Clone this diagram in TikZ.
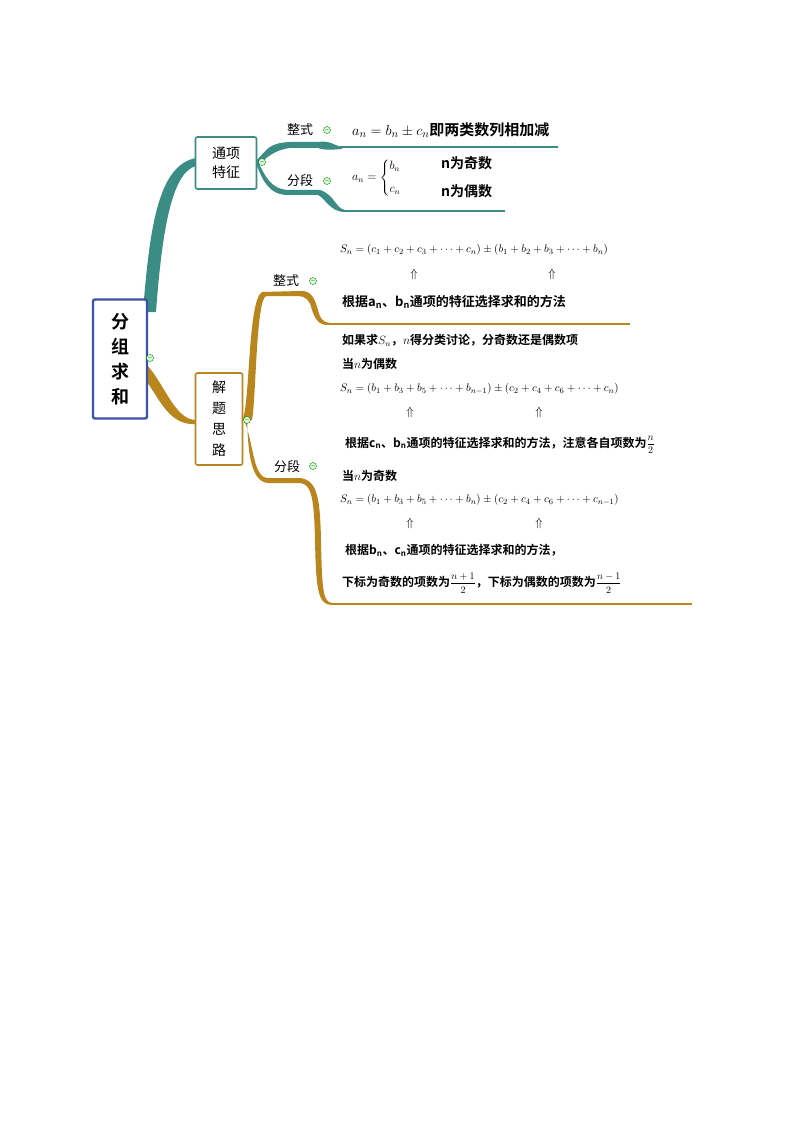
\documentclass[tikz,border=0pt]{standalone}
\usepackage{fontspec}
\usepackage{amsmath}
\newfontfamily\cjk{Noto Sans CJK SC}[BoldFont={Noto Sans CJK SC Bold}]
\definecolor{teal1}{HTML}{3A8C84}
\definecolor{gold1}{HTML}{B8861C}
\definecolor{blue1}{HTML}{3E51A8}
\newcommand{\myfr}[2]{{\fontsize{10}{12}\selectfont$\dfrac{#1}{#2}$}}
\begin{document}
\begin{tikzpicture}[x=1pt,y=-1pt,
  box/.style={draw,line width=1.6pt,rounded corners=2pt,fill=white,align=center,font=\cjk\fontsize{14}{19}\selectfont},
  lab/.style={font=\cjk\fontsize{13}{15}\selectfont},
  tx/.style={font=\cjk\bfseries\fontsize{13}{15}\selectfont,anchor=west,inner sep=0pt},
  txs/.style={font=\cjk\bfseries\fontsize{12}{14}\selectfont,anchor=west,inner sep=0pt},
  eq/.style={font=\fontsize{11}{13}\selectfont,anchor=west,inner sep=0pt},
  up/.style={font=\fontsize{13}{15}\selectfont},
  mini/.style={circle,draw=green!50!black,fill=green!15,inner sep=0pt,minimum size=7pt,font=\tiny}]
\useasboundingbox (0,0) rectangle (794,1123);
% branches teal
\fill[teal1] (143,312) .. controls (150,220) and (160,165) .. (196,158) -- (196,166) .. controls (172,172) and (162,230) .. (156,312) -- cycle;
\fill[teal1] (257,160) .. controls (268,148) and (270,143) .. (290,142) -- (318,142) .. controls (330,140) and (335,146) .. (342,147) -- (342,149) .. controls (330,150) and (322,150) .. (318,148) -- (290,148) .. controls (274,150) and (266,158) .. (257,166) -- cycle;
\draw[teal1,line width=1.5pt] (340,147) -- (558,147);
\fill[teal1] (257,160) .. controls (265,175) and (270,190) .. (290,190) -- (320,190) .. controls (335,195) and (335,208) .. (345,210) -- (345,212) .. controls (330,212) and (325,198) .. (318,195) -- (290,195) .. controls (268,196) and (262,178) .. (257,166) -- cycle;
\draw[teal1,line width=1.5pt] (343,211) -- (505,211);
% gold
\fill[gold1] (147,365) .. controls (165,385) and (175,420) .. (196,420) -- (196,424) .. controls (170,426) and (160,400) .. (147,382) -- cycle;
\fill[gold1] (243,418) .. controls (250,400) and (248,300) .. (262,292) -- (300,291) .. controls (312,290) and (315,300) .. (318,310) .. controls (320,318) and (322,322) .. (330,323) -- (330,325) .. controls (318,326) and (315,318) .. (312,310) .. controls (310,300) and (305,296) .. (298,296) -- (266,296) .. controls (256,300) and (256,400) .. (252,420) -- cycle;
\draw[gold1,line width=1.5pt] (328,324) -- (630,324);
\fill[gold1] (243,418) .. controls (254,440) and (252,478) .. (268,478) -- (300,478) .. controls (318,480) and (320,500) .. (321,540) .. controls (322,590) and (323,602) .. (332,603) -- (332,605) .. controls (318,605) and (316,590) .. (315,540) .. controls (314,500) and (312,484) .. (300,483) -- (268,483) .. controls (248,482) and (248,440) .. (247,418) -- cycle;
\draw[gold1,line width=1.5pt] (330,604) -- (692,604);
% boxes
\node[box,draw=blue1,line width=2.4pt,minimum width=54pt,minimum height=119pt,font=\cjk\bfseries\fontsize{18}{25}\selectfont,inner sep=2pt] (root) at (120,359) {分\\组\\求\\和};
\node[box,draw=teal1,minimum width=61pt,minimum height=52pt] (tx) at (226,163) {通项\\特征};
\node[box,draw=gold1,minimum width=47pt,minimum height=92pt,font=\cjk\fontsize{14}{21}\selectfont] (jt) at (219,419) {解\\题\\思\\路};
% minus markers
\foreach \p in {(150,358),(262,162),(247,420),(327,130),(327,181),(313,281),(313,466)}
  \node[mini] at \p {$-$};
% labels
\node[lab] (z1) at (300,130) {整式};
\node[lab] (f1) at (300,181) {分段};
\node[lab] (z2) at (286,281) {整式};
\node[lab] (f2) at (287,467) {分段};
% teal texts
\node[tx,font=\cjk\bfseries\fontsize{15}{17}\selectfont] (t1) at (352,130) {$a_n=b_n\pm c_n$即两类数列相加减};
\node[eq,font=\fontsize{12}{14}\selectfont] (t2) at (352,178) {$a_n=\begin{cases} b_n\\[6pt] c_n\end{cases}$};
\node[tx,font=\cjk\bfseries\fontsize{14}{16}\selectfont] (t3) at (441,163) {n为奇数};
\node[tx,font=\cjk\bfseries\fontsize{14}{16}\selectfont] (t4) at (441,191) {n为偶数};
% gold texts
\node[eq] (g1) at (340,250) {$S_n=(c_1+c_2+c_3+\dots+c_n)\pm(b_1+b_2+b_3+\dots+b_n)$};
\node[up] at (414,274) {$\Uparrow$};
\node[up] at (552,274) {$\Uparrow$};
\node[tx] (g2) at (342,302) {根据a\textsubscript{n}、b\textsubscript{n}通项的特征选择求和的方法};
\node[txs] (h1) at (342,340) {如果求$S_n$，$n$得分类讨论，分奇数还是偶数项};
\node[txs] (h2) at (342,364) {当$n$为偶数};
\node[eq] (h3) at (340,389) {$S_n=(b_1+b_3+b_5+\dots+b_{n-1})\pm(c_2+c_4+c_6+\dots+c_n)$};
\node[up] at (410,412) {$\Uparrow$};
\node[up] at (539,412) {$\Uparrow$};
\node[txs] (h4) at (345,445) {根据c\textsubscript{n}、b\textsubscript{n}通项的特征选择求和的方法，注意各自项数为\myfr{n}{2}};
\node[txs] (h5) at (342,476) {当$n$为奇数};
\node[eq] (h6) at (340,500) {$S_n=(b_1+b_3+b_5+\dots+b_n)\pm(c_2+c_4+c_6+\dots+c_{n-1})$};
\node[up] at (410,523) {$\Uparrow$};
\node[up] at (539,523) {$\Uparrow$};
\node[txs] (h7) at (345,550) {根据b\textsubscript{n}、c\textsubscript{n}通项的特征选择求和的方法，};
\node[txs] (h8) at (342,583) {下标为奇数的项数为\myfr{n+1}{2}，下标为偶数的项数为\myfr{n-1}{2}};
\end{tikzpicture}
\end{document}
